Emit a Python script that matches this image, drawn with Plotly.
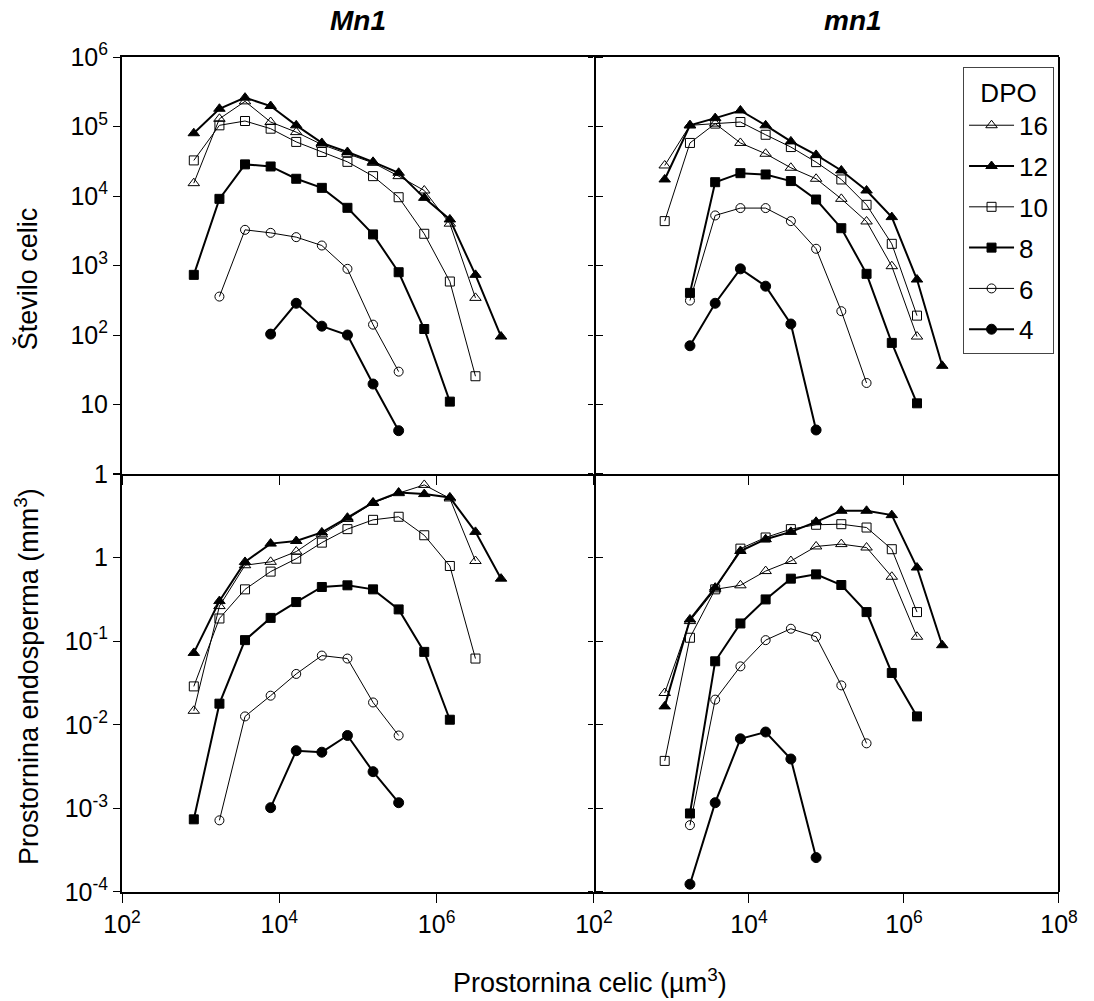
import plotly.graph_objects as go
from plotly.subplots import make_subplots

# Cell volume classes (µm^3), shared x positions
cell_volume = [818, 1732, 3664, 7754, 16406, 34713, 73451, 155420, 328850,
               695830, 1472000, 3115000, 6590000]

dpo_labels = ["16", "12", "10", "8", "6", "4"]

# Mn1 – number of cells
Mn1_cnt_16 = [15300, 129000, 230000, 116000, 83000, 55000, 40500, 30000, 19300, 12000, 4000, 342, None]
Mn1_cnt_12 = [80000, 180000, 260000, 197000, 104000, 58000, 43000, 31000, 21600, 9400, 4600, 733, 95]
Mn1_cnt_10 = [32500, 104000, 120000, 93000, 60000, 43000, 31000, 19300, 9600, 2860, 588, 25.5, None]
Mn1_cnt_8 = [733, 9100, 28500, 26600, 17700, 13100, 6760, 2800, 800, 122, 11, None, None]
Mn1_cnt_6 = [None, 357, 3260, 2950, 2560, 1940, 895, 141, 29.7, None, None, None, None]
Mn1_cnt_4 = [None, None, None, 103, 286, 134, 100, 19.7, 4.2, None, None, None, None]

# mn1 – number of cells
mn1_cnt_16 = [27500, 104000, 110000, 58000, 40500, 25500, 17700, 9100, 4300, 977, 95, None, None]
mn1_cnt_12 = [17300, 104000, 132000, 170000, 104000, 61000, 39000, 23300, 12000, 4970, 628, 36, None]
mn1_cnt_10 = [4350, 58000, 110000, 116000, 76000, 50600, 30700, 17300, 7460, 2050, 190, None, None]
mn1_cnt_8 = [None, 404, 15800, 21300, 20400, 16400, 8900, 3440, 759, 77, 10.4, None, None]
mn1_cnt_6 = [None, 313, 5250, 6700, 6700, 4350, 1740, 220, 20.4, None, None, None, None]
mn1_cnt_4 = [None, 70, 286, 895, 504, 144, 4.3, None, None, None, None, None, None]

# Mn1 – endosperm volume (mm^3)
Mn1_vol_16 = [0.0147, 0.263, 0.81, 0.89, 1.18, 1.9, 2.9, 4.5, 5.9, 7.4, 5.1, 0.91, None]
Mn1_vol_12 = [0.0724, 0.302, 0.887, 1.47, 1.58, 2.0, 3.0, 4.57, 6.0, 5.75, 5.25, 2.03, 0.56]
Mn1_vol_10 = [0.0288, 0.187, 0.417, 0.68, 0.97, 1.51, 2.19, 2.83, 3.08, 1.85, 0.794, 0.062, None]
Mn1_vol_8 = [0.00074, 0.0179, 0.103, 0.19, 0.294, 0.445, 0.466, 0.417, 0.24, 0.0745, 0.0115, None, None]
Mn1_vol_6 = [None, 0.00072, 0.0126, 0.0223, 0.0406, 0.0673, 0.062, 0.0185, 0.00745, None, None, None, None]
Mn1_vol_4 = [None, None, None, 0.00102, 0.0049, 0.0047, 0.00745, 0.00275, 0.00117, None, None, None, None]

# mn1 – endosperm volume (mm^3)
mn1_vol_16 = [0.024, 0.174, 0.417, 0.466, 0.69, 0.91, 1.36, 1.45, 1.32, 0.59, 0.113, None, None]
mn1_vol_12 = [0.0166, 0.182, 0.437, 1.2, 1.66, 2.03, 2.68, 3.63, 3.63, 3.22, 0.76, 0.0895, None]
mn1_vol_10 = [0.0037, 0.11, 0.417, 1.28, 1.74, 2.19, 2.47, 2.51, 2.29, 1.26, 0.223, None, None]
mn1_vol_8 = [None, 0.00087, 0.0575, 0.163, 0.316, 0.56, 0.63, 0.47, 0.223, 0.0417, 0.0126, None, None]
mn1_vol_6 = [None, 0.00063, 0.02, 0.05, 0.103, 0.141, 0.113, 0.0296, 0.006, None, None, None, None]
mn1_vol_4 = [None, 0.000124, 0.00117, 0.0068, 0.0082, 0.0039, 0.000258, None, None, None, None, None, None]

# tick labels
x_tickvals = [1e2, 1e4, 1e6, 1e8]
x_ticktext_left = ["10<sup>2</sup>", "10<sup>4</sup>", "10<sup>6</sup>", ""]
x_ticktext_right = ["10<sup>2</sup>", "10<sup>4</sup>", "10<sup>6</sup>", "10<sup>8</sup>"]
y_top_tickvals = [1, 10, 1e2, 1e3, 1e4, 1e5, 1e6]
y_top_ticktext = ["1", "10", "10<sup>2</sup>", "10<sup>3</sup>", "10<sup>4</sup>", "10<sup>5</sup>", "10<sup>6</sup>"]
y_bot_tickvals = [1e-4, 1e-3, 1e-2, 1e-1, 1, 10]
y_bot_ticktext = ["10<sup>-4</sup>", "10<sup>-3</sup>", "10<sup>-2</sup>", "10<sup>-1</sup>", "1", ""]

panels = [
    (1, 1, [Mn1_cnt_16, Mn1_cnt_12, Mn1_cnt_10, Mn1_cnt_8, Mn1_cnt_6, Mn1_cnt_4]),
    (1, 2, [mn1_cnt_16, mn1_cnt_12, mn1_cnt_10, mn1_cnt_8, mn1_cnt_6, mn1_cnt_4]),
    (2, 1, [Mn1_vol_16, Mn1_vol_12, Mn1_vol_10, Mn1_vol_8, Mn1_vol_6, Mn1_vol_4]),
    (2, 2, [mn1_vol_16, mn1_vol_12, mn1_vol_10, mn1_vol_8, mn1_vol_6, mn1_vol_4]),
]

styles = {
    "16": dict(symbol="triangle-up-open", size=10, lw=1),
    "12": dict(symbol="triangle-up", size=10, lw=2),
    "10": dict(symbol="square-open", size=9, lw=1),
    "8": dict(symbol="square", size=9, lw=2),
    "6": dict(symbol="circle-open", size=9, lw=1),
    "4": dict(symbol="circle", size=10, lw=2),
}

FONT = "Liberation Sans, Arial, sans-serif"

fig = make_subplots(rows=2, cols=2, horizontal_spacing=0, vertical_spacing=0)

for r, c, series in panels:
    for lab, ys in zip(dpo_labels, series):
        st = styles[lab]
        fig.add_trace(go.Scatter(
            x=cell_volume, y=ys, mode="lines+markers", name=lab,
            legendgroup=lab, showlegend=(r == 1 and c == 2),
            line=dict(color="black", width=st["lw"]),
            marker=dict(symbol=st["symbol"], size=st["size"], color="black",
                        line=dict(color="black", width=1)),
        ), row=r, col=c)

xl, xm, xr = 0.0, 0.5037, 1.0
yb, ym, yt = 0.0, 0.5006, 1.0

axis_common = dict(linecolor="black", linewidth=2, showgrid=False, automargin=False,
                   zeroline=False, ticks="outside", tickcolor="black", tickwidth=1,
                   tickfont=dict(family=FONT, size=25, color="black"))

# top-left
fig.update_xaxes(type="log", range=[2, 8], domain=[xl, xm], showline=True, mirror=True, ticklen=9,
                 tickvals=x_tickvals, showticklabels=False, row=1, col=1, **axis_common)
fig.update_yaxes(type="log", range=[0, 6], domain=[ym, yt], showline=True, mirror="ticks", ticklen=7,
                 tickvals=y_top_tickvals, ticktext=y_top_ticktext, row=1, col=1, **axis_common)
# top-right
fig.update_xaxes(type="log", range=[2, 8], domain=[xm, xr], showline=True, mirror=True, ticklen=9,
                 tickvals=x_tickvals, showticklabels=False, row=1, col=2, **axis_common)
fig.update_yaxes(type="log", range=[0, 6], domain=[ym, yt], showline=False, ticklen=5,
                 tickvals=y_top_tickvals, showticklabels=False, row=1, col=2, **axis_common)
# bottom-left
fig.update_xaxes(type="log", range=[2, 8], domain=[xl, xm], showline=True, mirror=False, ticklen=9,
                 tickvals=x_tickvals, ticktext=x_ticktext_left, row=2, col=1, **axis_common)
fig.update_yaxes(type="log", range=[-4, 1], domain=[yb, ym], showline=True, mirror="ticks", ticklen=7,
                 tickvals=y_bot_tickvals, ticktext=y_bot_ticktext, row=2, col=1, **axis_common)
# bottom-right
fig.update_xaxes(type="log", range=[2, 8], domain=[xm, xr], showline=True, mirror=False, ticklen=9,
                 tickvals=x_tickvals, ticktext=x_ticktext_right, row=2, col=2, **axis_common)
fig.update_yaxes(type="log", range=[-4, 1], domain=[yb, ym], showline=False, ticklen=5,
                 tickvals=y_bot_tickvals, showticklabels=False, row=2, col=2, **axis_common)

ann_font = dict(family=FONT, size=27, color="black")
title_font = dict(family="Liberation Sans Narrow, Arial Narrow, Liberation Sans, Arial", size=28, color="black")
annotations = [
    dict(text="<b><i>Mn1</i></b>", x=0.2519, y=1.044, xref="paper", yref="paper",
         showarrow=False, xanchor="center", yanchor="middle", font=title_font),
    dict(text="<b><i>mn1</i></b>", x=0.78, y=1.044, xref="paper", yref="paper",
         showarrow=False, xanchor="center", yanchor="middle", font=title_font),
    dict(text="Število celic", x=-0.1014, y=0.735, xref="paper", yref="paper",
         showarrow=False, textangle=-90, xanchor="center", yanchor="middle", font=ann_font),
    dict(text="Prostornina endosperma (mm<sup>3</sup>)", x=-0.1014, y=0.2587, xref="paper", yref="paper",
         showarrow=False, textangle=-90, xanchor="center", yanchor="middle", font=ann_font),
    dict(text="Prostornina celic (µm<sup>3</sup>)", x=0.4995, y=-0.107, xref="paper", yref="paper",
         showarrow=False, xanchor="center", yanchor="middle", font=ann_font),
]

fig.update_layout(
    template="none",
    width=1094, height=1001,
    margin=dict(l=122, r=35, t=57, b=109),
    paper_bgcolor="white", plot_bgcolor="white",
    font=dict(family=FONT, color="black"),
    annotations=annotations,
    shapes=[dict(type="line", xref="paper", yref="paper", x0=1, x1=1, y0=0, y1=1,
                 line=dict(color="black", width=2))],
    legend=dict(
        title=dict(text="DPO", side="top center", font=dict(family=FONT, size=26, color="black")),
        font=dict(family=FONT, size=26, color="black"),
        x=0.9947, xanchor="right", y=0.988, yanchor="top",
        bgcolor="white", bordercolor="#444", borderwidth=1,
        traceorder="grouped", tracegroupgap=4, itemwidth=45,
    ),
)

fig.write_html("out.html", config={"displayModeBar": False},
               post_script="document.body.style.margin='0px';document.body.style.overflow='hidden';")
